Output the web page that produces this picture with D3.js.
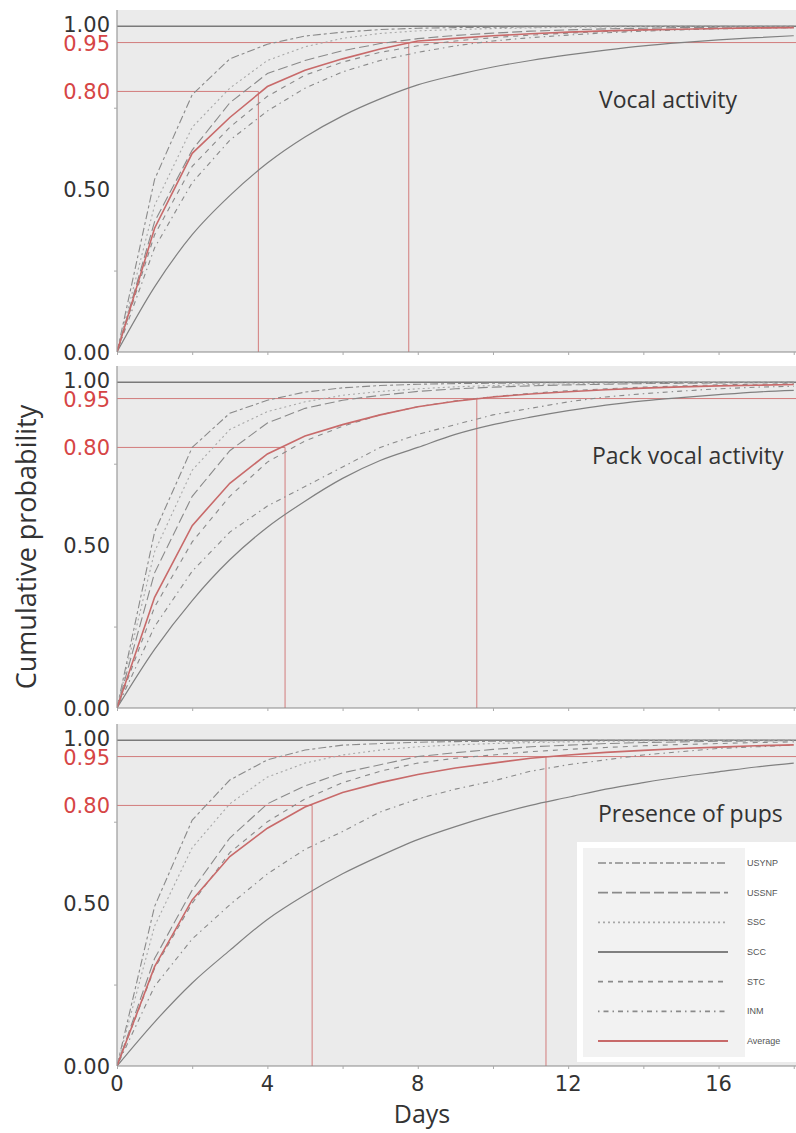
<!DOCTYPE html>
<html>
<head>
<meta charset="utf-8">
<script src="https://cdnjs.cloudflare.com/ajax/libs/d3/7.8.5/d3.min.js"></script>
<style>
  body { margin: 0; background: #fff; }
  svg { display: block; }
</style>
</head>
<body>
<div id="chart"></div>
<script>
// Days 0..18, one value per day
const days = d3.range(0, 19);

const seriesNames = ["USYNP", "USSNF", "SSC", "SCC", "STC", "INM", "Average"];

// Vocal activity
const vocalUSYNP = [0, .53, .79, .90, .945, .97, .982, .99, .994, .996, .997, .998, .999, 1, 1, 1, 1, 1, 1];
const vocalUSSNF = [0, .40, .62, .765, .855, .895, .925, .947, .962, .972, .979, .985, .989, .992, .994, .996, .997, .998, .999];
const vocalSSC = [0, .45, .69, .81, .895, .937, .963, .978, .986, .99, .993, .995, .997, .998, .999, 1, 1, 1, 1];
const vocalSCC = [0, .20, .36, .48, .58, .66, .725, .777, .82, .85, .875, .895, .912, .927, .94, .95, .958, .965, .971];
const vocalSTC = [0, .36, .57, .69, .785, .85, .89, .92, .94, .955, .965, .973, .979, .984, .988, .991, .993, .995, .996];
const vocalINM = [0, .32, .52, .65, .74, .81, .86, .895, .92, .94, .955, .965, .973, .98, .985, .989, .992, .994, .996];
const vocalAverage = [0, .38, .61, .72, .815, .865, .90, .93, .955, .963, .971, .977, .982, .986, .989, .991, .993, .995, .996];

// Pack vocal activity
const packUSYNP = [0, .54, .80, .905, .945, .97, .983, .99, .994, .996, .997, .998, .999, 1, 1, 1, 1, 1, 1];
const packUSSNF = [0, .415, .65, .79, .875, .92, .945, .96, .972, .98, .985, .989, .992, .994, .996, .997, .998, .999, 1];
const packSSC = [0, .48, .73, .855, .91, .94, .96, .972, .98, .986, .99, .993, .995, .997, .998, .999, 1, 1, 1];
const packSCC = [0, .18, .33, .455, .555, .635, .705, .76, .80, .84, .87, .893, .913, .93, .943, .953, .962, .97, .975];
const packSTC = [0, .31, .51, .65, .755, .82, .865, .90, .925, .943, .956, .966, .974, .98, .985, .989, .992, .994, .996];
const packINM = [0, .25, .42, .54, .62, .68, .74, .80, .84, .87, .90, .92, .94, .955, .965, .973, .98, .985, .988];
const packAverage = [0, .34, .56, .69, .78, .835, .87, .90, .925, .942, .955, .964, .971, .977, .982, .986, .989, .991, .993];

// Presence of pups
const pupsUSYNP = [0, .49, .755, .878, .94, .97, .985, .99, .994, .996, .997, .998, .999, 1, 1, 1, 1, 1, 1];
const pupsUSSNF = [0, .33, .54, .70, .805, .86, .90, .925, .95, .962, .972, .98, .985, .99, .993, .995, .997, .998, .999];
const pupsSSC = [0, .43, .67, .805, .887, .93, .955, .97, .98, .986, .99, .993, .995, .997, .998, .999, 1, 1, 1];
const pupsSCC = [0, .135, .255, .355, .45, .525, .59, .645, .695, .735, .77, .80, .825, .85, .87, .888, .903, .918, .93];
const pupsSTC = [0, .30, .50, .655, .75, .82, .87, .905, .93, .945, .955, .965, .972, .978, .983, .987, .99, .993, .995];
const pupsINM = [0, .245, .39, .495, .59, .665, .72, .78, .82, .85, .875, .905, .925, .94, .955, .965, .975, .98, .985];
const pupsAverage = [0, .305, .51, .643, .73, .795, .84, .87, .895, .915, .93, .945, .955, .963, .969, .975, .979, .983, .986];

const panelTitles = ["Vocal activity", "Pack vocal activity", "Presence of pups"];
const titleX = [599, 592, 598];
// days at which the average reaches 0.80 and 0.95
const cross80 = [3.76, 4.47, 5.19];
const cross95 = [7.76, 9.57, 11.41];

const yTickValues = [0, 0.5, 0.8, 0.95, 1.0];
const yTickLabels = ["0.00", "0.50", "0.80", "0.95", "1.00"];
const xTickValues = [0, 4, 8, 12, 16];

const panelData = [
    [vocalUSYNP, vocalUSSNF, vocalSSC, vocalSCC, vocalSTC, vocalINM, vocalAverage],
    [packUSYNP, packUSSNF, packSSC, packSCC, packSTC, packINM, packAverage],
    [pupsUSYNP, pupsUSSNF, pupsSSC, pupsSCC, pupsSTC, pupsINM, pupsAverage]
];

// line styles for each series
const styles = {
    USYNP:   { stroke: "#8a8a8a", width: 1.1, dash: "8,3,3,3" },
    USSNF:   { stroke: "#8a8a8a", width: 1.1, dash: "10,4" },
    SSC:     { stroke: "#a8a8a8", width: 1.1, dash: "2,3" },
    SCC:     { stroke: "#808080", width: 1.2, dash: null },
    STC:     { stroke: "#8a8a8a", width: 1.1, dash: "5,5" },
    INM:     { stroke: "#8a8a8a", width: 1.1, dash: "1.5,4,5,4" },
    Average: { stroke: "#c86a6a", width: 1.6, dash: null }
};

const width = 796, height = 1133;
const plotLeft = 117, plotRight = 796;
const panelTops = [10, 366, 724];
const panelHeight = 342;
const refColor = "#d27c7c";
const redText = "#d64545";
const textColor = "#333";

const svg = d3.select("#chart")
    .append("svg")
    .attr("width", width)
    .attr("height", height);

const xScale = d3.scaleLinear()
    .domain([0, 18.06])
    .range([plotLeft, plotRight]);

svg.append("defs").append("clipPath")
    .attr("id", "plotClip")
    .append("rect")
    .attr("x", plotLeft)
    .attr("y", 0)
    .attr("width", plotRight - plotLeft)
    .attr("height", height);

panelData.forEach((series, p) => {
    const top = panelTops[p];
    const yScale = d3.scaleLinear()
        .domain([0, 1.05])
        .range([top + panelHeight, top]);

    const g = svg.append("g");

    // Panel background
    g.append("rect")
        .attr("x", plotLeft)
        .attr("y", top)
        .attr("width", plotRight - plotLeft)
        .attr("height", panelHeight)
        .attr("fill", "#ebebeb");

    // Reference lines
    g.append("line")
        .attr("x1", xScale(0)).attr("x2", plotRight)
        .attr("y1", yScale(1)).attr("y2", yScale(1))
        .attr("stroke", "#7a7a7a").attr("stroke-width", 1.6);

    g.append("line")
        .attr("x1", xScale(0)).attr("x2", plotRight)
        .attr("y1", yScale(0.95)).attr("y2", yScale(0.95))
        .attr("stroke", refColor).attr("stroke-width", 1);

    g.append("line")
        .attr("x1", xScale(0)).attr("x2", xScale(cross80[p]))
        .attr("y1", yScale(0.8)).attr("y2", yScale(0.8))
        .attr("stroke", refColor).attr("stroke-width", 1);

    g.append("line")
        .attr("x1", xScale(cross80[p])).attr("x2", xScale(cross80[p]))
        .attr("y1", yScale(0)).attr("y2", yScale(0.8))
        .attr("stroke", refColor).attr("stroke-width", 1);

    g.append("line")
        .attr("x1", xScale(cross95[p])).attr("x2", xScale(cross95[p]))
        .attr("y1", yScale(0)).attr("y2", yScale(0.95))
        .attr("stroke", refColor).attr("stroke-width", 1);

    // Curves
    const curves = g.append("g").attr("clip-path", "url(#plotClip)");
    series.forEach((values, i) => {
        const name = seriesNames[i];
        const st = styles[name];
        const line = d3.line()
            .x((d, j) => xScale(days[j]))
            .y(d => yScale(d))
            .curve(name === "SCC" ? d3.curveMonotoneX : d3.curveLinear);
        curves.append("path")
            .datum(values)
            .attr("fill", "none")
            .attr("stroke", st.stroke)
            .attr("stroke-width", st.width)
            .attr("stroke-dasharray", st.dash)
            .attr("d", line);
    });

    // Axes
    const yAxis = d3.axisLeft(yScale)
        .tickValues([0.25, 0.75])
        .tickSize(3)
        .tickFormat("");
    const ya = g.append("g")
        .attr("transform", `translate(${plotLeft},0)`)
        .call(yAxis);
    ya.select(".domain").attr("stroke", "#9a9a9a").attr("stroke-width", 1.2)
        .attr("d", `M0,${top}V${top + panelHeight}`);
    ya.selectAll(".tick line").attr("stroke", "#aaa");

    const xAxis = d3.axisBottom(xScale)
        .tickValues(d3.range(0, 19, 2))
        .tickSize(3)
        .tickFormat("");
    const xa = g.append("g")
        .attr("transform", `translate(0,${top + panelHeight})`)
        .call(xAxis);
    xa.select(".domain").attr("stroke", "#8a8a8a").attr("stroke-width", 1.2)
        .attr("d", `M${plotLeft},0H${plotRight}`);
    xa.selectAll(".tick line").attr("stroke", "#aaa");

    // Y tick labels (1.00 nudged up, 0.95 nudged down as in the figure)
    g.selectAll(".ylab")
        .data(yTickValues)
        .enter()
        .append("text")
        .attr("x", plotLeft - 7)
        .attr("y", d => yScale(d) + (d === 1 ? -2 : (d === 0.95 ? 1 : 0)))
        .attr("dy", "0.36em")
        .attr("text-anchor", "end")
        .style("font-family", "'DejaVu Sans', sans-serif")
        .style("font-size", "21px")
        .style("fill", d => (d === 0.8 || d === 0.95) ? redText : textColor)
        .text((d, i) => yTickLabels[i]);

    // Panel title
    g.append("text")
        .attr("x", titleX[p])
        .attr("y", yScale(0.75))
        .style("font-family", "'Open Sans', sans-serif")
        .style("font-size", "23px")
        .style("fill", textColor)
        .text(panelTitles[p]);

    // X tick labels only on last panel
    if (p === panelData.length - 1) {
        g.selectAll(".xlab")
            .data(xTickValues)
            .enter()
            .append("text")
            .attr("x", d => xScale(d))
            .attr("y", top + panelHeight + 25)
            .attr("text-anchor", "middle")
            .style("font-family", "'DejaVu Sans', sans-serif")
            .style("font-size", "21px")
            .style("fill", textColor)
            .text(d => d);
    }
});

// Axis titles
svg.append("text")
    .attr("x", 422)
    .attr("y", 1123)
    .attr("text-anchor", "middle")
    .style("font-family", "'Open Sans', sans-serif")
    .style("font-size", "25px")
    .style("fill", textColor)
    .text("Days");

svg.append("text")
    .attr("transform", "translate(36,547) rotate(-90)")
    .attr("text-anchor", "middle")
    .style("font-family", "'Open Sans', sans-serif")
    .style("font-size", "27px")
    .style("fill", textColor)
    .text("Cumulative probability");

// Legend
const legend = svg.append("g");
legend.append("rect")
    .attr("x", 577).attr("y", 842)
    .attr("width", 219).attr("height", 220)
    .attr("fill", "#ffffff");
legend.append("rect")
    .attr("x", 583).attr("y", 848)
    .attr("width", 162).attr("height", 209)
    .attr("fill", "#f2f2f2");

const legendY = d3.scalePoint()
    .domain(seriesNames)
    .range([863, 1041]);

seriesNames.forEach(name => {
    const st = styles[name];
    legend.append("line")
        .attr("x1", 598).attr("x2", 728)
        .attr("y1", legendY(name)).attr("y2", legendY(name))
        .attr("stroke", st.stroke)
        .attr("stroke-width", st.width + 0.6)
        .attr("stroke-dasharray", st.dash);
    legend.append("text")
        .attr("x", 747)
        .attr("y", legendY(name))
        .attr("dy", "0.35em")
        .style("font-family", "'Liberation Sans', sans-serif")
        .style("font-size", "9px")
        .style("fill", "#555")
        .text(name);
});
</script>
</body>
</html>
